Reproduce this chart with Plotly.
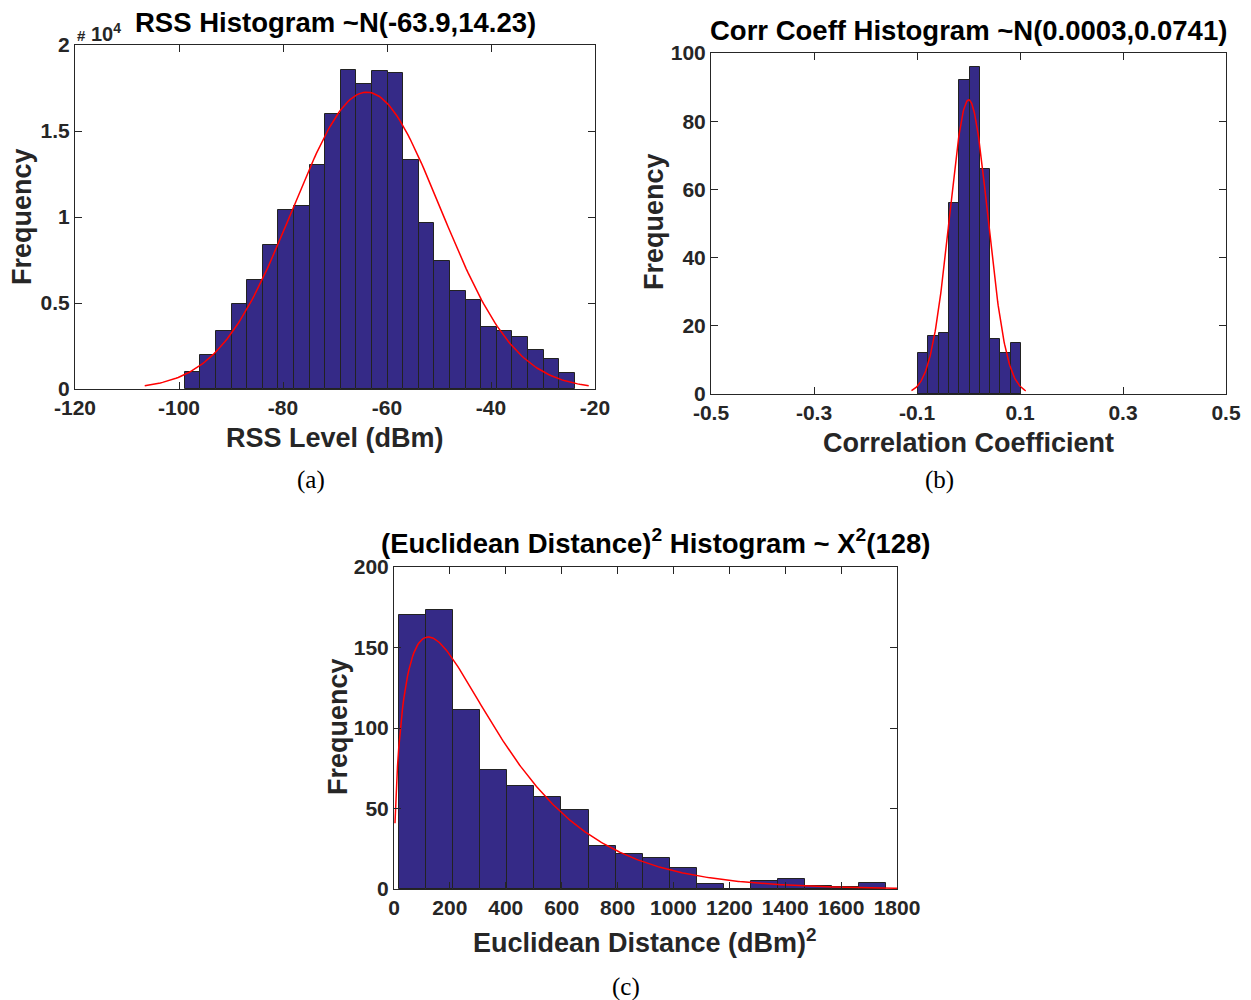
import math
import numpy as np
import plotly.graph_objects as go

W, H = 1251, 1000

# ---- RSS level histogram (counts in units of 1e4) ----
rss_bin_start = -98.9
rss_bin_width = 3.0
rss_counts = [0.097, 0.197, 0.335, 0.495, 0.631, 0.836, 1.043, 1.066, 1.300, 1.596,
              1.855, 1.776, 1.849, 1.838, 1.329, 0.963, 0.747, 0.567, 0.516, 0.358,
              0.335, 0.300, 0.224, 0.174, 0.091]
rss_mu, rss_sigma = -63.9, 14.23
rss_xticks = [-120, -100, -80, -60, -40, -20]
rss_xlabels = ["-120", "-100", "-80", "-60", "-40", "-20"]
rss_yticks = [0, 0.5, 1, 1.5, 2]
rss_ylabels = ["0", "0.5", "1", "1.5", "2"]

# ---- correlation coefficient histogram ----
corr_bin_start = -0.098
corr_bin_width = 0.02
corr_counts = [12, 17, 18, 56, 92, 96, 66, 16, 12, 15]
corr_mu, corr_sigma = 0.0003, 0.037
corr_xticks = [-0.5, -0.3, -0.1, 0.1, 0.3, 0.5]
corr_xlabels = ["-0.5", "-0.3", "-0.1", "0.1", "0.3", "0.5"]
corr_yticks = [0, 20, 40, 60, 80, 100]

# ---- squared euclidean distance histogram ----
ed_bin_start = 18.5
ed_bin_width = 96.8
ed_counts = [170, 173, 111, 74, 64, 57, 49, 27, 22, 19, 13, 3, 0, 5, 6, 2, 1, 4]
ed_shape, ed_scale = 1.52, 236.0
ed_xticks = [0, 200, 400, 600, 800, 1000, 1200, 1400, 1600, 1800]
ed_yticks = [0, 50, 100, 150, 200]

BAR_FILL = "#352A87"
BAR_EDGE = "#222222"
AX_COLOR = "#262626"
FONT = "Liberation Sans"


def px(x):
    return x / W


def py(y):
    return 1 - y / H


def centers(start, width, n):
    return [start + width * (i + 0.5) for i in range(n)]


def normal_curve(counts, width, mu, sigma):
    x = np.linspace(mu - 3 * sigma, mu + 3 * sigma, 200)
    scale = sum(counts) * width
    y = scale * np.exp(-0.5 * ((x - mu) / sigma) ** 2) / (sigma * math.sqrt(2 * math.pi))
    return x, y


def gamma_curve(counts, width, k, theta, x_max):
    x = np.linspace(3.5, x_max, 400)
    scale = sum(counts) * width
    y = scale * x ** (k - 1) * np.exp(-x / theta) / (math.gamma(k) * theta ** k)
    return x, y


fig = go.Figure()


def add_hist(counts, start, width, xa, ya):
    fig.add_trace(go.Bar(
        x=centers(start, width, len(counts)), y=counts, width=[width] * len(counts),
        marker=dict(color=BAR_FILL, line=dict(color=BAR_EDGE, width=1)),
        xaxis=xa, yaxis=ya, showlegend=False, hoverinfo="skip"))


def add_curve(x, y, xa, ya):
    fig.add_trace(go.Scatter(
        x=x, y=y, mode="lines", line=dict(color="#FF0000", width=1.5),
        xaxis=xa, yaxis=ya, showlegend=False, hoverinfo="skip"))


add_hist(rss_counts, rss_bin_start, rss_bin_width, "x", "y")
add_curve(*normal_curve(rss_counts, rss_bin_width, rss_mu, rss_sigma), "x", "y")

add_hist(corr_counts, corr_bin_start, corr_bin_width, "x2", "y2")
add_curve(*normal_curve(corr_counts, corr_bin_width, corr_mu, corr_sigma), "x2", "y2")

add_hist(ed_counts, ed_bin_start, ed_bin_width, "x3", "y3")
add_curve(*gamma_curve(ed_counts, ed_bin_width, ed_shape, ed_scale, 1800), "x3", "y3")

tick_font = dict(family=FONT, size=21, color=AX_COLOR, weight="bold")


def axis(domain, rng, ticks, anchor, labels=None):
    d = dict(domain=domain, range=rng, tickvals=ticks, anchor=anchor,
             showgrid=False, zeroline=False, showline=True, linecolor=AX_COLOR,
             linewidth=1, mirror="ticks", ticks="inside", ticklen=7,
             tickcolor=AX_COLOR, tickwidth=1, tickfont=tick_font,
             fixedrange=True, automargin=False)
    if labels is not None:
        d["ticktext"] = labels
    return d


fig.update_layout(
    template="none",
    width=W, height=H, margin=dict(l=0, r=0, t=0, b=0, pad=0, autoexpand=False),
    paper_bgcolor="white", plot_bgcolor="white",
    barmode="overlay", bargap=0,
    xaxis=axis([px(75), px(595)], [-120, -20], rss_xticks, "y", rss_xlabels),
    yaxis=axis([py(389), py(45)], [0, 2], rss_yticks, "x", rss_ylabels),
    xaxis2=axis([px(711), px(1226)], [-0.5, 0.5], corr_xticks, "y2", corr_xlabels),
    yaxis2=axis([py(394), py(53)], [0, 100], corr_yticks, "x2"),
    xaxis3=axis([px(394), px(897)], [0, 1800], ed_xticks, "y3"),
    yaxis3=axis([py(889), py(567)], [0, 200], ed_yticks, "x3"),
)

annotations = []


def label(text, x, y, size=27, color=AX_COLOR, angle=0, family=FONT, bold=True,
          xanchor="center", yanchor="middle"):
    f = dict(family=family, size=size, color=color)
    if bold:
        f["weight"] = "bold"
    annotations.append(dict(text=text, x=px(x), y=py(y), xref="paper", yref="paper",
                            showarrow=False, textangle=angle, font=f,
                            xanchor=xanchor, yanchor=yanchor))


CAPTION = dict(size=25, color="black", family="Liberation Serif", bold=False)

# panel (a)
label("RSS Histogram ~N(-63.9,14.23)", 335, 22, size=27.5, color="black")
label("<span style='font-size:15px'>#</span> 10<sup>4</sup>", 75, 32, size=20,
      xanchor="left")
label("Frequency", 22, 217, angle=-90)
label("RSS Level (dBm)", 335, 438)
label("(a)", 311, 480, **CAPTION)

# panel (b)
label("Corr Coeff Histogram ~N(0.0003,0.0741)", 968, 30, size=27.5, color="black")
label("Frequency", 654, 222, angle=-90)
label("Correlation Coefficient", 968, 443)
label("(b)", 940, 480, **CAPTION)

# panel (c)
label("(Euclidean Distance)<sup>2</sup> Histogram ~ X<sup>2</sup>(128)", 655, 541,
      size=27.5, color="black")
label("Frequency", 338, 727, angle=-90)
label("Euclidean Distance (dBm)<sup>2</sup>", 645, 941)
label("(c)", 626, 987, **CAPTION)

fig.update_layout(annotations=annotations)

fig.write_html("out.html")
